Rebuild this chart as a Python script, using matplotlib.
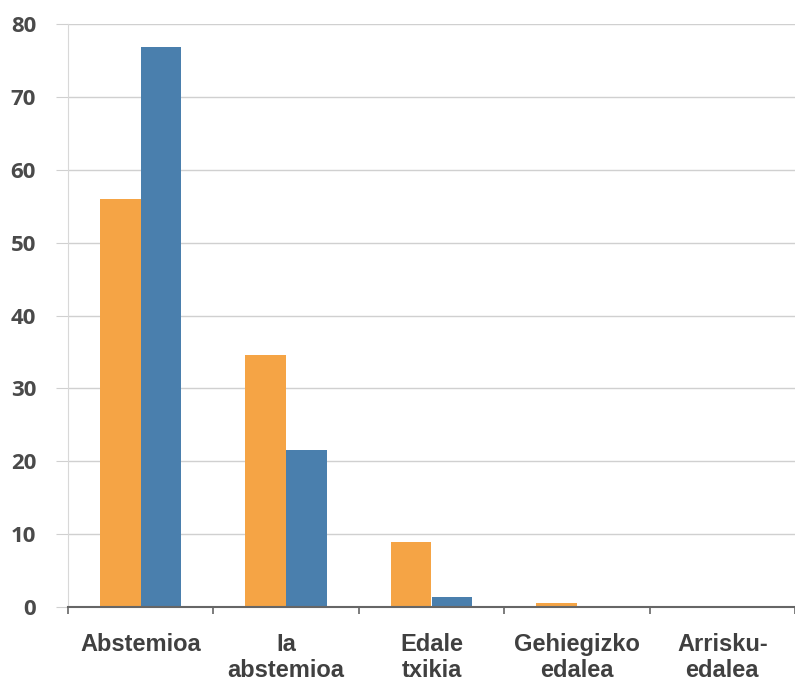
import matplotlib
matplotlib.use("Agg")
import matplotlib.pyplot as plt
import numpy as np

categories = ["Abstemioa", "Ia\nabstemioa", "Edale\ntxikia", "Gehiegizko\nedalea", "Arrisku-\nedalea"]
series_orange = [56.0, 34.6, 8.9, 0.5, 0.0]
series_blue = [76.8, 21.5, 1.4, 0.0, 0.0]
yticks = [0, 10, 20, 30, 40, 50, 60, 70, 80]

fig = plt.figure(figsize=(7.95, 6.81), dpi=100)
ax = fig.add_axes([68/795, 74/681, 1 - 68/795, (607-24)/681])

x = np.arange(len(categories))
w = 0.28
ax.bar(x - w/2, series_orange, width=w, color="#F5A445", zorder=3)
ax.bar(x + w/2, series_blue, width=w, color="#4A7FAD", zorder=3)

ax.set_xlim(-0.5, 4.5)
ax.set_ylim(0, 80)
ax.set_yticks(yticks)
ax.set_yticklabels([str(v) for v in yticks], fontsize=16, fontweight="bold",
                   color="#4a4a4a", family="Open Sans")
ax.grid(axis="y", color="#d0d0d0", linewidth=1, zorder=0)
ax.tick_params(axis="y", length=9, color="#d0d0d0", pad=14)

ax.set_xticks(x)
ax.set_xticklabels(categories, fontsize=17, fontweight="bold", color="#404040",
                   family="Liberation Sans", linespacing=1.15)
ax.set_xticks(np.arange(-0.5, 5.0, 1.0), minor=True)
ax.tick_params(axis="x", which="major", length=0, pad=19)
ax.tick_params(axis="x", which="minor", length=5, color="#666666", width=1.2)

for s in ["top", "right"]:
    ax.spines[s].set_visible(False)
ax.spines["left"].set_color("#d8d8d8")
ax.spines["bottom"].set_color("#666666")
ax.spines["bottom"].set_linewidth(1.5)
ax.spines["bottom"].set_zorder(4)

fig.savefig("out.png", dpi=100)
